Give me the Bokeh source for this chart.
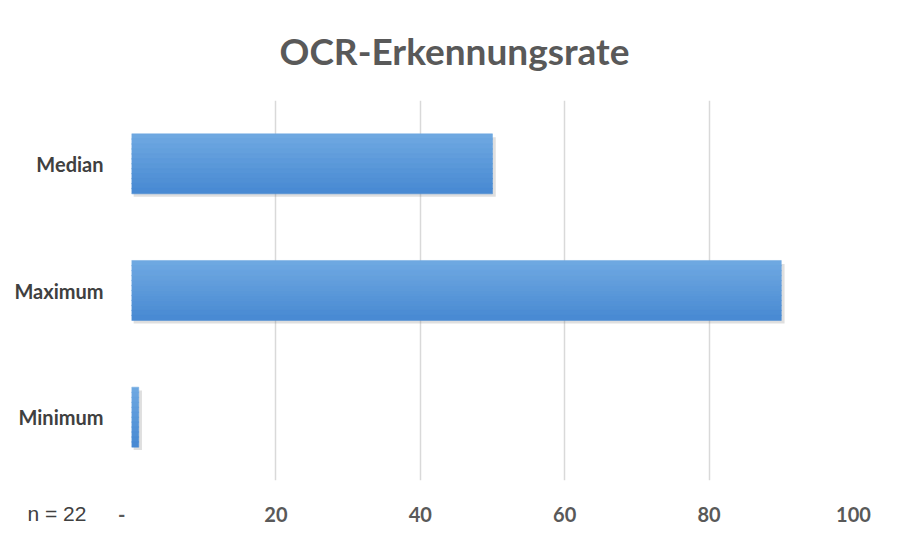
from bokeh.plotting import figure
from bokeh.models import ColumnDataSource, Range1d, FactorRange, Title
from bokeh.transform import dodge
from bokeh.embed import file_html
from bokeh.resources import INLINE

categories = ["Minimum", "Maximum", "Median"]
values = [1, 90, 50]
tick_values = [0, 20, 40, 60, 80, 100]
tick_labels = {0: "-\u00a0\u00a0\u00a0\u00a0", 20: "20", 40: "40", 60: "60", 80: "80", 100: "100"}
title_text = "OCR-Erkennungsrate"
note_text = "n = 22"

source = ColumnDataSource(data=dict(cat=categories, value=values))

p = figure(width=892, height=528, y_range=FactorRange(*categories),
           x_range=Range1d(0, 100), output_backend="svg", toolbar_location=None,
           min_border_left=131, min_border_right=39, min_border_top=100,
           min_border_bottom=42)

p.title.text = title_text
p.title.align = "left"
p.title.vertical_align = "top"
p.title.text_font = "Lato"
p.title.text_font_size = "37px"
p.title.text_font_style = "bold"
p.title.text_color = "#595959"
p.title.offset = 148
p.title.standoff = 52

bar_h = 0.47
p.hbar(y=dodge("cat", -0.025, range=p.y_range), left=0.3,
       right=dodge("value", 0.45), height=bar_h, source=source,
       fill_color="#7f7f7f", fill_alpha=0.25, line_color=None)

n_bands = 12
top = (0x70, 0xa9, 0xe2)
bot = (0x47, 0x89, 0xd2)
for i in range(n_bands):
    t = (i + 0.5) / n_bands
    c = tuple(int(round(top[k] + (bot[k] - top[k]) * t)) for k in range(3))
    color = "#%02x%02x%02x" % c
    off = bar_h / 2 - (i + 0.5) * bar_h / n_bands
    p.hbar(y=dodge("cat", off, range=p.y_range), left=0, right="value",
           height=bar_h / n_bands + 0.004, source=source,
           fill_color=color, line_color=color, line_width=0.5)

p.xaxis.ticker = tick_values
p.xaxis.major_label_overrides = tick_labels
p.xaxis.axis_line_color = None
p.xaxis.major_tick_line_color = None
p.xaxis.minor_tick_line_color = None
p.xaxis.major_label_standoff = 15
p.xaxis.major_label_text_font = "Lato"
p.xaxis.major_label_text_font_style = "bold"
p.xaxis.major_label_text_font_size = "20px"
p.xaxis.major_label_text_color = "#595959"

p.yaxis.axis_line_color = None
p.yaxis.major_tick_line_color = None
p.yaxis.minor_tick_line_color = None
p.yaxis.major_label_standoff = 22
p.yaxis.major_label_text_font = "Lato"
p.yaxis.major_label_text_font_style = "bold"
p.yaxis.major_label_text_font_size = "20px"
p.yaxis.major_label_text_color = "#404040"

p.xgrid.grid_line_color = "#d9d9d9"
p.xgrid.grid_line_width = 1.5
p.ygrid.grid_line_color = None
p.outline_line_color = None

note = Title(text=note_text, align="left", vertical_align="top",
             offset=-104, standoff=-54, text_font="Liberation Sans",
             text_font_size="21px", text_font_style="normal",
             text_color="#404040")
p.add_layout(note, "below")

open("out.html", "w").write(file_html(p, INLINE))
